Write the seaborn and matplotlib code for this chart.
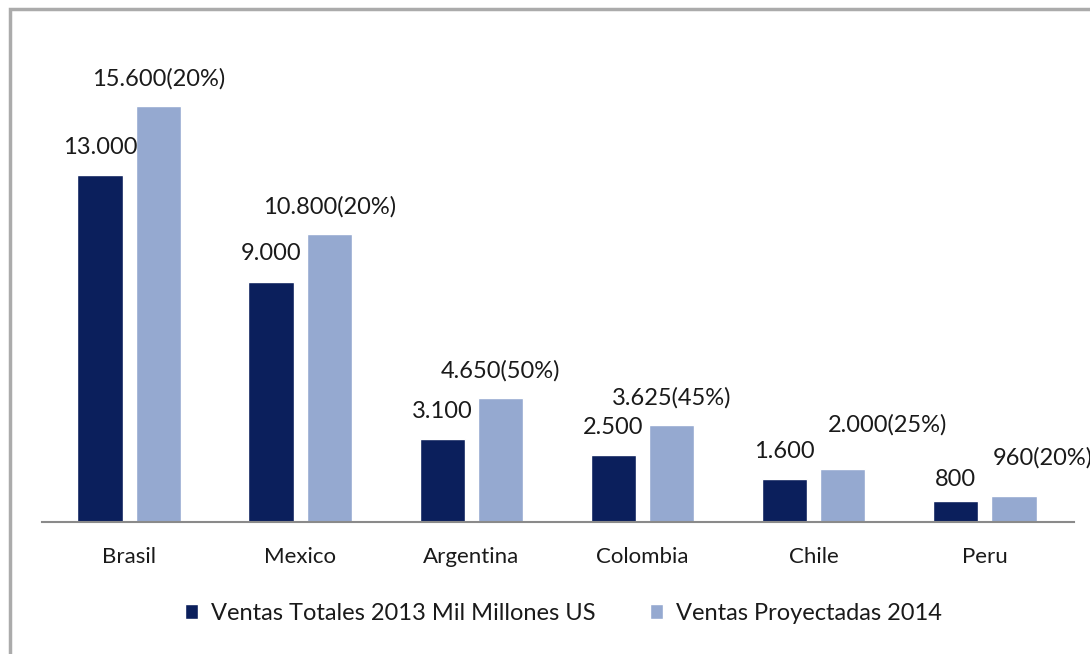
import numpy as np
import pandas as pd
import matplotlib
matplotlib.use('Agg')
import matplotlib.pyplot as plt
from matplotlib.patches import Rectangle, Patch
import seaborn as sns

# data
paises = ['Brasil', 'Mexico', 'Argentina', 'Colombia', 'Chile', 'Peru']
ventas_2013 = [13000, 9000, 3100, 2500, 1600, 800]
ventas_2014 = [15600, 10800, 4650, 3625, 2000, 960]
crecimiento = ['20%', '20%', '50%', '45%', '25%', '20%']
serie_2013 = 'Ventas Totales 2013 Mil Millones US'
serie_2014 = 'Ventas Proyectadas 2014'

oscuro = '#0b1f5c'
claro = '#95a9d0'

df = pd.DataFrame({
    'pais': paises * 2,
    'ventas': ventas_2013 + ventas_2014,
    'serie': [serie_2013] * len(paises) + [serie_2014] * len(paises),
})

sns.set_style('white')
plt.rcParams['font.family'] = ['Lato', 'DejaVu Sans']

fig = plt.figure(figsize=(10.9, 6.54), dpi=100)
ax = fig.add_axes([0.0385, 0.2018, 0.9465, 0.7346])

sns.barplot(data=df, x='pais', y='ventas', hue='serie', order=paises,
            hue_order=[serie_2013, serie_2014],
            palette=[oscuro, claro], width=0.6, gap=0.1,
            saturation=1, legend=False, ax=ax)

ax.set_ylim(0, 18000)
ax.set_xlim(-0.51, 5.52)

# bar geometry like the excel original: 45px bars, 13px apart
ancho = 0.264
desp = 0.171
for k, cont in enumerate(ax.containers):
    for i, bar in enumerate(cont):
        c = i + (-desp if k == 0 else desp)
        bar.set_width(ancho)
        bar.set_x(c - ancho / 2)

# value labels above each bar
def fmt(v):
    return f'{v:,}'.replace(',', '.')

lab_2013 = [fmt(v) for v in ventas_2013]
lab_2014 = [f'{fmt(v)}({p})' for v, p in zip(ventas_2014, crecimiento)]
# hand-moved labels in the original (pixels: dx, dy above bar top)
mov = {(0, 'Peru'): (0, 21), (1, 'Chile'): (45, 44), (1, 'Peru'): (29, 39)}
for k, (cont, labs) in enumerate(zip(ax.containers, [lab_2013, lab_2014])):
    for pais, bar, txt in zip(paises, cont, labs):
        dx, dy = mov.get((k, pais), (0, 28 if k == 0 else 27))
        ax.annotate(txt, (bar.get_x() + bar.get_width() / 2, bar.get_height()),
                    xytext=(dx * 0.72, dy * 0.72), textcoords='offset points',
                    ha='center', va='center', fontsize=17, color='#1a1a1a',
                    annotation_clip=False)

ax.set_xlabel('')
ax.set_ylabel('')
ax.set_yticks([])
ax.tick_params(axis='x', length=0, pad=18, labelsize=16, labelcolor='#1a1a1a')
for s in ['top', 'right', 'left']:
    ax.spines[s].set_visible(False)
ax.spines['bottom'].set_color('#8a8a8a')
ax.spines['bottom'].set_linewidth(1.5)

handles = [Patch(facecolor=oscuro, label=serie_2013),
           Patch(facecolor=claro, label=serie_2014)]
fig.legend(handles=handles, loc='center', bbox_to_anchor=(0.517, 0.062),
           ncol=2, frameon=False, fontsize=17,
           handlelength=0.55, handleheight=0.55, handletextpad=0.55,
           columnspacing=2.3, labelcolor='#1a1a1a')

# outer gray frame of the original picture
fig.patches.append(Rectangle((10 / 1090, -0.05), 1.2, 1 - 9 / 654 + 0.05,
                             transform=fig.transFigure, fill=False,
                             edgecolor='#ababab', linewidth=2.5))

fig.savefig('out.png', dpi=100)
